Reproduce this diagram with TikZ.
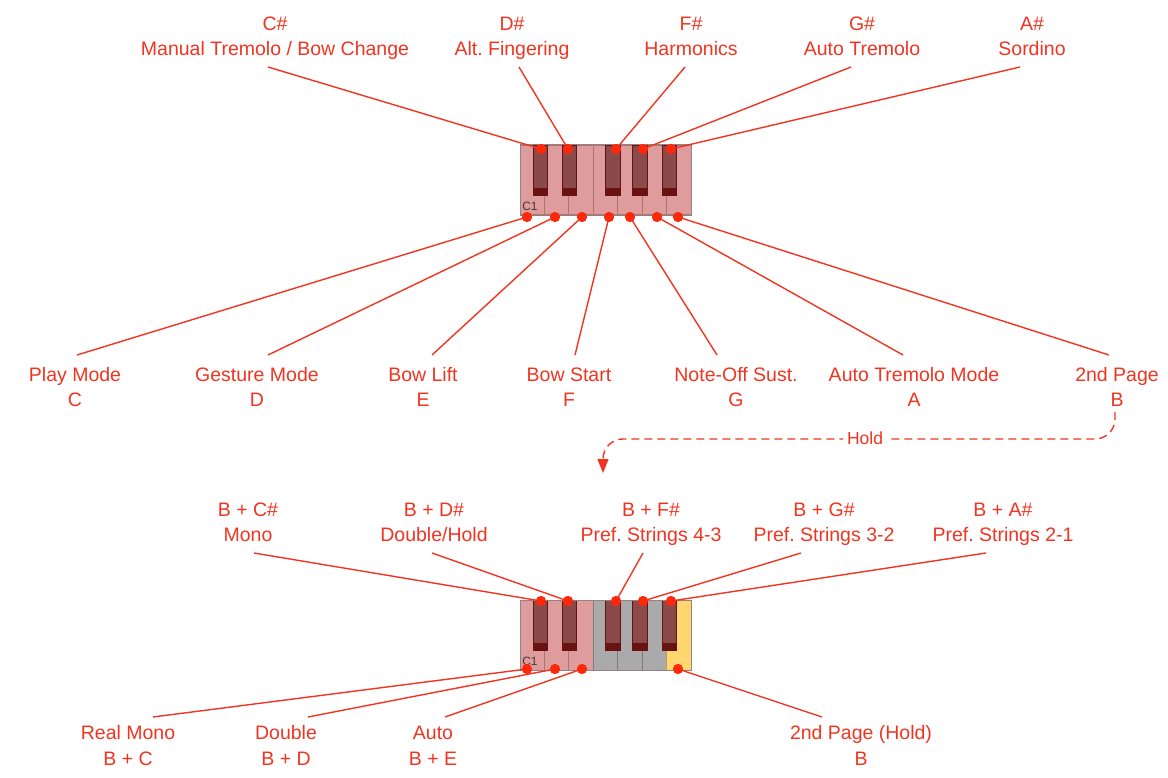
\documentclass[tikz,border=0pt]{standalone}
\usepackage{fontspec}
\setmainfont{Liberation Sans}
\usetikzlibrary{arrows.meta}
\frenchspacing
\definecolor{lab}{RGB}{240,52,32}
\definecolor{dotc}{RGB}{255,40,10}
\definecolor{pinkkey}{RGB}{222,156,156}
\definecolor{pinkline}{RGB}{175,115,115}
\definecolor{blackkey}{RGB}{139,74,74}
\definecolor{blackband}{RGB}{105,18,18}
\definecolor{graykey}{RGB}{170,170,170}
\definecolor{grayline}{RGB}{125,125,125}
\definecolor{yellowkey}{RGB}{255,214,112}
\definecolor{yellowline}{RGB}{190,160,90}
\definecolor{kframe}{RGB}{150,130,130}
\definecolor{ctext}{RGB}{70,55,55}
\begin{document}
\begin{tikzpicture}[x=1pt,y=-1pt,
  lbl/.style={text=lab, font=\fontsize{19.5}{25.5}\selectfont, align=center, inner sep=0pt},
  pin/.style={circle, fill=dotc, inner sep=0pt, minimum size=10pt},
  lead/.style={draw=lab, line width=1.4pt},
  holdline/.style={draw=lab, line width=1.4pt, dash pattern=on 8pt off 5pt},
  pinkwk/.style={fill=pinkkey, draw=pinkline, line width=0.8pt},
  graywk/.style={fill=graykey, draw=grayline, line width=0.8pt},
  yellowwk/.style={fill=yellowkey, draw=yellowline, line width=0.8pt},
  octlabel/.style={text=ctext, font=\fontsize{12}{14}\selectfont, inner sep=0pt}
]
\useasboundingbox (0,0) rectangle (1168,778);

% ---------- top keyboard ----------
\foreach \i in {0,...,6}
  \draw[pinkwk] ({520+\i*24.43},145) rectangle ({520+(\i+1)*24.43},215);
\foreach \b in {533,562,605.5,632.5,662}{
  \fill[blackkey] (\b,145) rectangle (\b+14.5,195);
  \fill[blackband] (\b,188) rectangle (\b+14.5,195);
  \draw[blackband, line width=0.6pt] (\b,145) rectangle (\b+14.5,195);
}
\draw[kframe, line width=1pt] (520,145) rectangle (691,215);
\node[octlabel] (c1top) at (530,206) {C1};

% ---------- bottom keyboard ----------
\foreach \i in {0,1,2}
  \draw[pinkwk] ({520+\i*24.43},600) rectangle ({520+(\i+1)*24.43},670);
\foreach \i in {3,4,5}
  \draw[graywk] ({520+\i*24.43},600) rectangle ({520+(\i+1)*24.43},670);
\draw[yellowwk] ({520+6*24.43},600) rectangle (691,670);
\foreach \b in {533,562,605.5,632.5,662}{
  \fill[blackkey] (\b,600) rectangle (\b+14.5,650);
  \fill[blackband] (\b,643) rectangle (\b+14.5,650);
  \draw[blackband, line width=0.6pt] (\b,600) rectangle (\b+14.5,650);
}
\draw[kframe, line width=1pt] (520,600) rectangle (691,670);
\node[octlabel] (c1bot) at (530,661) {C1};

% ---------- dots ----------
\node[pin] (tCs) at (541,149) {};
\node[pin] (tDs) at (568,149) {};
\node[pin] (tFs) at (616,149) {};
\node[pin] (tGs) at (643,149) {};
\node[pin] (tAs) at (671,149) {};
\node[pin] (tC) at (527,217) {};
\node[pin] (tD) at (555,217) {};
\node[pin] (tE) at (582,217) {};
\node[pin] (tF) at (609,217) {};
\node[pin] (tG) at (630,217) {};
\node[pin] (tA) at (657,217) {};
\node[pin] (tB) at (678,217) {};

\node[pin] (bCs) at (541,601) {};
\node[pin] (bDs) at (568,601) {};
\node[pin] (bFs) at (616,601) {};
\node[pin] (bGs) at (643,601) {};
\node[pin] (bAs) at (671,601) {};
\node[pin] (bC) at (527,669) {};
\node[pin] (bD) at (555,669) {};
\node[pin] (bE) at (582,669) {};
\node[pin] (bB) at (678,669) {};

% ---------- labels: top keyboard ----------
\node[lbl] (lCs) at (275,38) {\strut C\#\\\strut Manual Tremolo / Bow Change};
\node[lbl] (lDs) at (512,38) {\strut D\#\\\strut Alt. Fingering};
\node[lbl] (lFs) at (691,38) {\strut F\#\\\strut Harmonics};
\node[lbl] (lGs) at (862,38) {\strut G\#\\\strut Auto Tremolo};
\node[lbl] (lAs) at (1032,38) {\strut A\#\\\strut Sordino};

\node[lbl] (lC) at (75,389) {\strut Play Mode\\\strut C};
\node[lbl] (lD) at (257,389) {\strut Gesture Mode\\\strut D};
\node[lbl] (lE) at (423,389) {\strut Bow Lift\\\strut E};
\node[lbl] (lF) at (569,389) {\strut Bow Start\\\strut F};
\node[lbl] (lG) at (736,389) {\strut Note-Off Sust.\\\strut G};
\node[lbl] (lA) at (914,389) {\strut Auto Tremolo Mode\\\strut A};
\node[lbl] (lB) at (1117,389) {\strut 2nd Page\\\strut B};

% ---------- labels: bottom keyboard ----------
\node[lbl] (mCs) at (248,524) {\strut B + C\#\\\strut Mono};
\node[lbl] (mDs) at (434,524) {\strut B + D\#\\\strut Double/Hold};
\node[lbl] (mFs) at (651,524) {\strut B + F\#\\\strut Pref. Strings 4-3};
\node[lbl] (mGs) at (824,524) {\strut B + G\#\\\strut Pref. Strings 3-2};
\node[lbl] (mAs) at (1003,524) {\strut B + A\#\\\strut Pref. Strings 2-1};

\node[lbl] (mC) at (128,747.5) {\strut Real Mono\\\strut B + C};
\node[lbl] (mD) at (286,747.5) {\strut Double\\\strut B + D};
\node[lbl] (mE) at (433,747.5) {\strut Auto\\\strut B + E};
\node[lbl] (mB) at (861,747.5) {\strut 2nd Page (Hold)\\\strut B};

% ---------- connector start points ----------
\coordinate (sCs) at (268,67);
\coordinate (sDs) at (519,67);
\coordinate (sFs) at (685,67);
\coordinate (sGs) at (851,67);
\coordinate (sAs) at (1020,67);
\coordinate (sC) at (77,355);
\coordinate (sD) at (268,355);
\coordinate (sE) at (432,355);
\coordinate (sF) at (575,355);
\coordinate (sG) at (717,355);
\coordinate (sA) at (903,355);
\coordinate (sB) at (1109,355);
\coordinate (uCs) at (254,553);
\coordinate (uDs) at (432,553);
\coordinate (uFs) at (643,553);
\coordinate (uGs) at (801,553);
\coordinate (uAs) at (986,553);
\coordinate (uC) at (153,717);
\coordinate (uD) at (308,717);
\coordinate (uE) at (445,717);
\coordinate (uB) at (822,717);

% ---------- connectors ----------
\foreach \k in {Cs,Ds,Fs,Gs,As,C,D,E,F,G,A,B}
  \draw[lead] (s\k) -- (t\k.center);
\foreach \k in {Cs,Ds,Fs,Gs,As,C,D,E,B}
  \draw[lead] (u\k) -- (b\k.center);

% redraw dots on top
\foreach \k in {Cs,Ds,Fs,Gs,As,C,D,E,F,G,A,B}
  \fill[dotc] (t\k) circle (5pt);
\foreach \k in {Cs,Ds,Fs,Gs,As,C,D,E,B}
  \fill[dotc] (b\k) circle (5pt);

% ---------- hold connector ----------
\coordinate (hs) at (1115,412);
\coordinate (ht) at (603,473);
\draw[holdline, rounded corners=20pt, -{Triangle[width=11pt,length=14pt]}] (hs) |- (603,439) -- (ht);
\node[text=lab, fill=white, inner sep=4pt, font=\fontsize{17.5}{20}\selectfont] (hold) at (865,438) {Hold};
\end{tikzpicture}
\end{document}
